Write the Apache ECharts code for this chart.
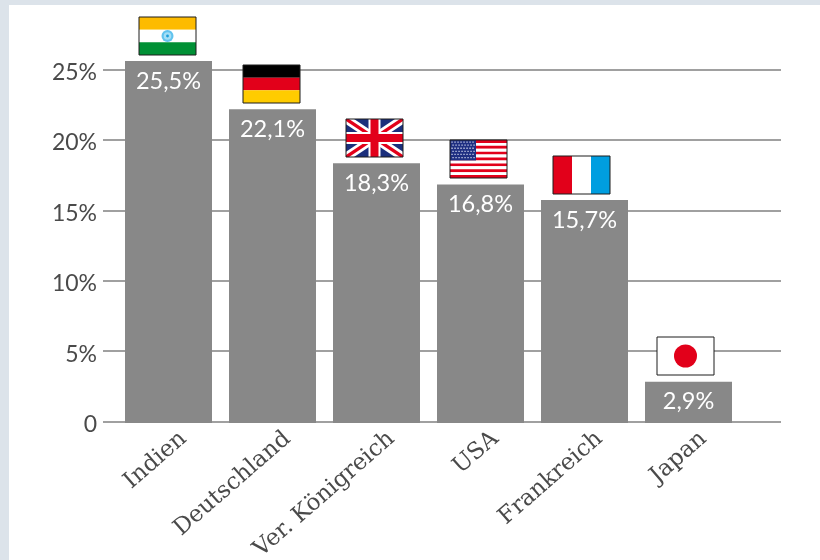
<!DOCTYPE html>
<html>
<head>
<meta charset="utf-8">
<style>html,body{margin:0;padding:0;background:#fff}#chart{width:820px;height:560px}</style>
<script src="https://cdn.jsdelivr.net/npm/echarts@6/dist/echarts.min.js"></script>
</head>
<body>
<div id="chart"></div>
<script>
// Anteile je Land, in Prozent
const categories = ['Indien', 'Deutschland', 'Ver. Königreich', 'USA', 'Frankreich', 'Japan'];
const shares = [25.5, 22.1, 18.3, 16.8, 15.7, 2.9];
const flagCodes = ['in', 'de', 'gb', 'us', 'fr', 'jp'];
const axisMax = 25;
const axisStep = 5;

const FLAG_W = 57, FLAG_H = 38;
const RED = '#e2001a';

function rect(x, y, w, h, fill) {
  return { type: 'rect', shape: { x, y, width: w, height: h }, style: { fill } };
}
function poly(points, fill) {
  return { type: 'polygon', shape: { points }, style: { fill } };
}
function disc(cx, cy, r, style) {
  return { type: 'circle', shape: { cx, cy, r }, style };
}
function hBands(colors) {
  const h = FLAG_H / colors.length;
  return colors.map((c, i) => rect(0, i * h, FLAG_W, h, c));
}
function vBands(colors) {
  const w = FLAG_W / colors.length;
  return colors.map((c, i) => rect(i * w, 0, w, FLAG_H, c));
}
// Schraegbalken von Ecke zu Ecke als Polygon, damit nichts ueber den Rand ragt
function diagonals(d, fill) {
  const W = FLAG_W, H = FLAG_H;
  return [
    poly([[0, 0], [d, 0], [W, H - d * H / W], [W, H], [W - d, H], [0, d * H / W]], fill),
    poly([[W, 0], [W - d, 0], [0, H - d * H / W], [0, H], [d, H], [W, d * H / W]], fill)
  ];
}
const flagArt = {
  in() {
    const out = hBands(['#fdbb00', '#ffffff', '#009035']);
    out.push(disc(FLAG_W / 2, FLAG_H / 2, 6, { fill: '#62c3ee' }));
    out.push(disc(FLAG_W / 2, FLAG_H / 2, 3.8, { fill: '#a5def5' }));
    out.push(disc(FLAG_W / 2, FLAG_H / 2, 1.4, { fill: '#1a9edb' }));
    return out;
  },
  de() { return hBands(['#000000', RED, '#ffcc00']); },
  gb() {
    const out = [rect(0, 0, FLAG_W, FLAG_H, '#1b2f7c')];
    out.push(...diagonals(8, '#ffffff'));
    out.push(...diagonals(3, RED));
    out.push(rect(FLAG_W / 2 - 6, 0, 12, FLAG_H, '#ffffff'));
    out.push(rect(0, FLAG_H / 2 - 6, FLAG_W, 12, '#ffffff'));
    out.push(rect(FLAG_W / 2 - 4, 0, 8, FLAG_H, RED));
    out.push(rect(0, FLAG_H / 2 - 4, FLAG_W, 8, RED));
    return out;
  },
  us() {
    const stripes = [];
    for (let i = 0; i < 13; i++) stripes.push(i % 2 ? '#ffffff' : RED);
    const out = hBands(stripes);
    out.push(rect(0, 0, 26, FLAG_H * 7 / 13, '#1f2f82'));
    for (let r = 0; r < 6; r++) {
      for (let c = 0; c < 8; c++) {
        out.push(rect(1.4 + c * 3 + (r % 2) * 1, 1.4 + r * 3.1, 1.3, 1.3, '#c9cfe8'));
      }
    }
    return out;
  },
  fr() { return vBands([RED, '#ffffff', '#009ee0']); },
  jp() {
    return [rect(0, 0, FLAG_W, FLAG_H, '#ffffff'), disc(FLAG_W / 2, FLAG_H / 2, 11.5, { fill: RED })];
  }
};

function renderFlag(params, api) {
  const idx = api.value(0);
  const top = api.coord([idx, api.value(1)]);
  const children = flagArt[flagCodes[idx]]();
  children.push({
    type: 'rect',
    shape: { x: 0, y: 0, width: FLAG_W, height: FLAG_H },
    style: { fill: 'none', stroke: '#1c1c1c', lineWidth: 1 }
  });
  return {
    type: 'group',
    // die Flaggenreihe ist minimal enger gesetzt als die Balkenreihe
    x: Math.round(top[0] - 1 - 0.4 * idx - FLAG_W / 2),
    y: Math.round(top[1] - 6.5 - FLAG_H),
    children
  };
}

const chart = echarts.init(document.getElementById('chart'), null, { renderer: 'canvas' });
chart.setOption({
  animation: false,
  backgroundColor: '#ffffff',
  graphic: [
    { type: 'rect', z: -10, shape: { x: 0, y: 0, width: 820, height: 5 }, style: { fill: '#dce3ea' } },
    { type: 'rect', z: -10, shape: { x: 0, y: 0, width: 9, height: 560 }, style: { fill: '#dce3ea' } }
  ],
  grid: [
    // Skala und Hilfslinien, die breiter laufen als die Balkengruppe
    { left: 103, right: 39, top: 69.5, height: 352, outerBoundsMode: 'none' },
    // Balken
    { left: 116.5, width: 624, top: 61, height: 362, outerBoundsMode: 'none' }
  ],
  xAxis: [
    { gridIndex: 0, type: 'value', min: 0, max: 1, show: false },
    {
      gridIndex: 1,
      type: 'category',
      data: categories,
      axisLine: { show: false },
      axisTick: { show: false },
      axisLabel: {
        interval: 0,
        rotate: 41,
        margin: 26,
        fontFamily: 'DejaVu Serif',
        fontSize: 23,
        color: '#4a4a4a',
        padding: [0, -20, 0, 0]
      }
    }
  ],
  yAxis: [
    {
      gridIndex: 0,
      type: 'value',
      min: 0,
      max: axisMax,
      interval: axisStep,
      axisLine: { show: false },
      axisTick: { show: false },
      axisLabel: {
        margin: 6,
        formatter: v => '{t|' + (v === 0 ? '0' : v + '%') + '}',
        rich: {
          t: {
            fontFamily: 'Lato',
            fontSize: 23,
            color: '#4a4a4a',
            padding: [6, 0, 0, 0]
          }
        }
      },
      splitLine: { show: true, lineStyle: { color: '#a0a0a0', width: 2 } }
    },
    { gridIndex: 1, type: 'value', min: 0, max: shares[0], show: false }
  ],
  series: [
    {
      type: 'bar',
      xAxisIndex: 1,
      yAxisIndex: 1,
      data: shares,
      barWidth: 87,
      z: 3,
      itemStyle: { color: '#888888' },
      label: {
        show: true,
        position: 'insideTop',
        distance: 8,
        fontFamily: 'Lato',
        fontSize: 23.5,
        color: '#ffffff',
        formatter: p => p.value.toFixed(1).replace('.', ',') + '%'
      }
    },
    {
      type: 'custom',
      xAxisIndex: 1,
      yAxisIndex: 1,
      z: 4,
      clip: false,
      silent: true,
      data: shares.map((v, i) => [i, v]),
      encode: { x: 0, y: 1 },
      renderItem: renderFlag
    }
  ]
});
</script>
</body>
</html>
